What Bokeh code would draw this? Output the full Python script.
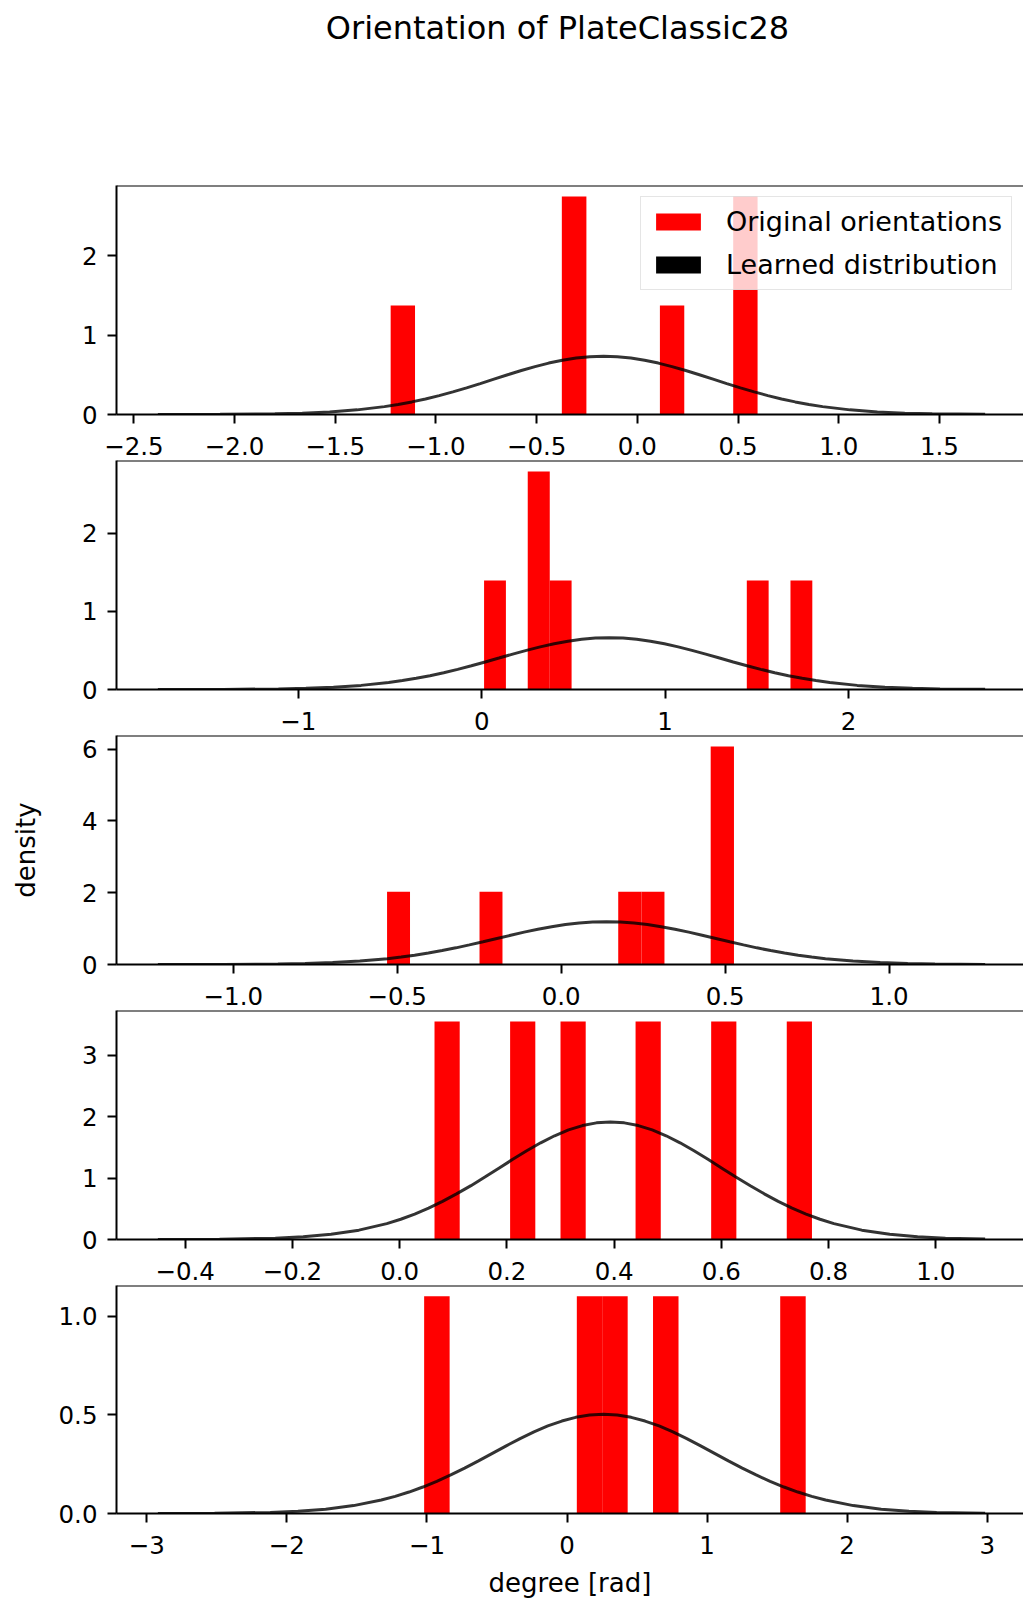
from bokeh.plotting import figure
from bokeh.models import Range1d, FixedTicker, Span, Legend, LegendItem, Label
from bokeh.layouts import column
from bokeh.embed import file_html
from bokeh.resources import INLINE

TITLE = "Orientation of PlateClassic28"
X_LABEL = "degree [rad]"
Y_LABEL = "density"
LEGEND_LABELS = ["Original orientations", "Learned distribution"]

# ---------------- panel 1 ----------------
p1_left = [-1.225, -0.375, 0.112, 0.476]
p1_right = [-1.104, -0.253, 0.233, 0.597]
p1_density = [1.372, 2.744, 1.372, 2.744]
p1_curve_x = [-2.381, -2.072, -1.800, -1.664, -1.528, -1.392,
              -1.256, -1.188, -1.120, -1.052, -0.984, -0.916, -0.848, -0.780,
              -0.712, -0.644, -0.576, -0.508, -0.440, -0.372, -0.304, -0.236,
              -0.168,
              -0.100, -0.032, 0.036, 0.104, 0.172, 0.240, 0.308, 0.376,
              0.444, 0.512, 0.580, 0.648, 0.716, 0.784, 0.852, 0.920,
              1.056, 1.192, 1.328, 1.464, 1.727]
p1_curve_y = [0.0002, 0.0016, 0.0081, 0.0167, 0.0322, 0.0583,
              0.0992, 0.1264, 0.1585, 0.1957, 0.2380, 0.2848, 0.3356, 0.3893,
              0.4446, 0.4999, 0.5533, 0.6029, 0.6469, 0.6832, 0.7104, 0.7273,
              0.7330,
              0.7273, 0.7104, 0.6832, 0.6469, 0.6029, 0.5533, 0.4999, 0.4446,
              0.3893, 0.3356, 0.2848, 0.2380, 0.1957, 0.1585, 0.1264, 0.0992,
              0.0583, 0.0322, 0.0167, 0.0081, 0.0017]
p1_xticks = [-2.5, -2.0, -1.5, -1.0, -0.5, 0.0, 0.5, 1.0, 1.5]
p1_xtick_labels = ["−2.5", "−2.0", "−1.5", "−1.0", "−0.5", "0.0", "0.5", "1.0", "1.5"]
p1_yticks = [0, 1, 2]
p1_ytick_labels = ["0", "1", "2"]

# ---------------- panel 2 ----------------
p2_left = [0.013, 0.251, 0.371, 1.445, 1.683]
p2_right = [0.132, 0.371, 0.490, 1.564, 1.802]
p2_density = [1.397, 2.794, 1.397, 1.397, 1.397]
p2_curve_x = [-1.765, -1.409, -1.108, -0.958, -0.808, -0.657,
              -0.507, -0.432, -0.357, -0.282, -0.207, -0.131, -0.056, 0.019,
              0.094, 0.169, 0.244, 0.319, 0.395, 0.470, 0.545, 0.620,
              0.695,
              0.770, 0.845, 0.920, 0.996, 1.071, 1.146, 1.221, 1.296,
              1.371, 1.446, 1.521, 1.597, 1.672, 1.747, 1.822, 1.897,
              2.047, 2.198, 2.348, 2.498, 2.744]
p2_curve_y = [0.0002, 0.0015, 0.0074, 0.0151, 0.0292, 0.0528,
              0.0899, 0.1145, 0.1436, 0.1773, 0.2156, 0.2580, 0.3040, 0.3527,
              0.4027, 0.4528, 0.5012, 0.5462, 0.5860, 0.6189, 0.6436, 0.6588,
              0.6640,
              0.6588, 0.6436, 0.6189, 0.5860, 0.5462, 0.5012, 0.4528, 0.4027,
              0.3527, 0.3040, 0.2580, 0.2156, 0.1773, 0.1436, 0.1145, 0.0899,
              0.0528, 0.0292, 0.0151, 0.0074, 0.0020]
p2_xticks = [-1, 0, 1, 2]
p2_xtick_labels = ["−1", "0", "1", "2"]
p2_yticks = [0, 1, 2]
p2_ytick_labels = ["0", "1", "2"]

# ---------------- panel 3 ----------------
p3_left = [-0.531, -0.249, 0.174, 0.245, 0.456]
p3_right = [-0.461, -0.179, 0.245, 0.315, 0.527]
p3_density = [2.026, 2.026, 2.026, 2.026, 6.079]
p3_curve_x = [-1.230, -1.031, -0.864, -0.781, -0.697, -0.614,
              -0.530, -0.488, -0.447, -0.405, -0.363, -0.321, -0.280, -0.238,
              -0.196, -0.154, -0.113, -0.071, -0.029, 0.013, 0.055, 0.096,
              0.138,
              0.180, 0.222, 0.263, 0.305, 0.347, 0.389, 0.430, 0.472,
              0.514, 0.556, 0.597, 0.639, 0.681, 0.723, 0.764, 0.806,
              0.890, 0.973, 1.057, 1.140, 1.293]
p3_curve_y = [0.0003, 0.0026, 0.0133, 0.0272, 0.0525, 0.0951,
              0.1617, 0.2060, 0.2584, 0.3191, 0.3880, 0.4643, 0.5471, 0.6347,
              0.7248, 0.8149, 0.9020, 0.9830, 1.0546, 1.1139, 1.1582, 1.1857,
              1.1950,
              1.1857, 1.1582, 1.1139, 1.0546, 0.9830, 0.9020, 0.8149, 0.7248,
              0.6347, 0.5471, 0.4643, 0.3880, 0.3191, 0.2584, 0.2060, 0.1617,
              0.0951, 0.0525, 0.0272, 0.0133, 0.0030]
p3_xticks = [-1.0, -0.5, 0.0, 0.5, 1.0]
p3_xtick_labels = ["−1.0", "−0.5", "0.0", "0.5", "1.0"]
p3_yticks = [0, 2, 4, 6]
p3_ytick_labels = ["0", "2", "4", "6"]

# ---------------- panel 4 ----------------
p4_left = [0.065, 0.206, 0.300, 0.440, 0.581, 0.722]
p4_right = [0.112, 0.253, 0.347, 0.487, 0.628, 0.769]
p4_density = [3.551, 3.551, 3.551, 3.551, 3.551, 3.551]
p4_curve_x = [-0.451, -0.336, -0.232, -0.180, -0.128, -0.076,
              -0.024, 0.002, 0.028, 0.054, 0.080, 0.106, 0.133, 0.159,
              0.185, 0.211, 0.237, 0.263, 0.289, 0.315, 0.341, 0.367,
              0.393,
              0.419, 0.445, 0.471, 0.497, 0.523, 0.549, 0.575, 0.601,
              0.627, 0.654, 0.680, 0.706, 0.732, 0.758, 0.784, 0.810,
              0.862, 0.914, 0.966, 1.018, 1.092]
p4_curve_y = [0.0005, 0.0042, 0.0213, 0.0436, 0.0841, 0.1523,
              0.2590, 0.3300, 0.4139, 0.5111, 0.6214, 0.7437, 0.8763, 1.0165,
              1.1609, 1.3052, 1.4448, 1.5744, 1.6891, 1.7840, 1.8551, 1.8991,
              1.9140,
              1.8991, 1.8551, 1.7840, 1.6891, 1.5744, 1.4448, 1.3052, 1.1609,
              1.0165, 0.8763, 0.7437, 0.6214, 0.5111, 0.4139, 0.3300, 0.2590,
              0.1523, 0.0841, 0.0436, 0.0213, 0.0069]
p4_xticks = [-0.4, -0.2, 0.0, 0.2, 0.4, 0.6, 0.8, 1.0]
p4_xtick_labels = ["−0.4", "−0.2", "0.0", "0.2", "0.4", "0.6", "0.8", "1.0"]
p4_yticks = [0, 1, 2, 3]
p4_ytick_labels = ["0", "1", "2", "3"]

# ---------------- panel 5 ----------------
p5_left = [-1.020, 0.070, 0.251, 0.614, 1.522]
p5_right = [-0.838, 0.251, 0.433, 0.796, 1.704]
p5_density = [1.101, 1.101, 1.101, 1.101, 1.101]
p5_curve_x = [-2.921, -2.516, -2.119, -1.921, -1.723, -1.524,
              -1.326, -1.227, -1.128, -1.029, -0.930, -0.830, -0.731, -0.632,
              -0.533, -0.434, -0.335, -0.236, -0.137, -0.037, 0.062, 0.161,
              0.260,
              0.359, 0.458, 0.557, 0.657, 0.756, 0.855, 0.954, 1.053,
              1.152, 1.251, 1.350, 1.450, 1.549, 1.648, 1.747, 1.846,
              2.044, 2.243, 2.441, 2.639, 2.985]
p5_curve_y = [0.0002, 0.0011, 0.0056, 0.0115, 0.0221, 0.0400,
              0.0681, 0.0867, 0.1088, 0.1343, 0.1633, 0.1954, 0.2303, 0.2671,
              0.3051, 0.3430, 0.3797, 0.4138, 0.4439, 0.4688, 0.4875, 0.4991,
              0.5030,
              0.4991, 0.4875, 0.4688, 0.4439, 0.4138, 0.3797, 0.3430, 0.3051,
              0.2671, 0.2303, 0.1954, 0.1633, 0.1343, 0.1088, 0.0867, 0.0681,
              0.0400, 0.0221, 0.0115, 0.0056, 0.0014]
p5_xticks = [-3, -2, -1, 0, 1, 2, 3]
p5_xtick_labels = ["−3", "−2", "−1", "0", "1", "2", "3"]
p5_yticks = [0.0, 0.5, 1.0]
p5_ytick_labels = ["0.0", "0.5", "1.0"]

# ---------------- styling / layout ----------------
FONT = "DejaVu Sans"
BAR_COLOR = "#ff0000"
FIG_W = 1023
BORDER_LEFT = 116
PAD = 0.05               # matplotlib-like 5% margins
VISIBLE = 907.0 / 910.0  # right edge of the axes is cropped by the page
TICK_FONT = "24.5px"
LABEL_FONT = "26px"
LEGEND_FONT = "27px"


def make_panel(height, border_bottom, left, right, dens, cx, cy,
               xticks, xlabels, yticks, ylabels):
    span = cx[-1] - cx[0]
    lo = cx[0] - PAD * span
    hi = cx[-1] + PAD * span
    vis_hi = lo + (hi - lo) * VISIBLE
    top = 1.05 * max(dens)
    p = figure(width=FIG_W, height=height, x_range=Range1d(lo, vis_hi),
               y_range=Range1d(0, top), toolbar_location=None, output_backend="svg",
               min_border_left=BORDER_LEFT, min_border_right=0, min_border_top=0,
               min_border_bottom=border_bottom)
    p.outline_line_color = None
    p.xgrid.visible = False
    p.ygrid.visible = False
    p.background_fill_color = "white"
    p.border_fill_color = "white"

    bars = p.quad(left=left, right=right, bottom=0, top=dens,
                  fill_color=BAR_COLOR, line_color=None)
    p.line(cx, cy, line_color="black", line_alpha=0.8, line_width=3)

    p.add_layout(Span(location=top, dimension="width", line_color="black", line_width=2))

    for ax, ticks, labels in ((p.xaxis[0], xticks, xlabels), (p.yaxis[0], yticks, ylabels)):
        ax.ticker = FixedTicker(ticks=ticks)
        ax.major_label_overrides = {t: s for t, s in zip(ticks, labels)}
        ax.axis_line_color = "black"
        ax.axis_line_width = 2
        ax.major_tick_line_color = "black"
        ax.major_tick_line_width = 2
        ax.major_tick_out = 9
        ax.major_tick_in = 0
        ax.minor_tick_out = 0
        ax.minor_tick_in = 0
        ax.major_label_text_font = FONT
        ax.major_label_text_font_size = TICK_FONT
        ax.major_label_text_color = "black"
        ax.axis_label_text_font = FONT
        ax.axis_label_text_font_size = LABEL_FONT
        ax.axis_label_text_font_style = "normal"
        ax.axis_label_text_color = "black"
    p.xaxis.major_label_standoff = 13
    p.yaxis.major_label_standoff = 10
    return p, bars


# title area (its frame is aligned with the panels' frames by the column)
title_fig = figure(width=FIG_W, height=185, x_range=Range1d(0, 1), y_range=Range1d(0, 1),
                   toolbar_location=None, output_backend="svg",
                   x_axis_location=None, y_axis_location=None, min_border=0,
                   min_border_left=BORDER_LEFT)
title_fig.outline_line_color = None
title_fig.xgrid.visible = False
title_fig.ygrid.visible = False
title_fig.add_layout(Label(x=441, y=157.5, x_units="screen", y_units="screen", text=TITLE,
                           text_align="center", text_baseline="middle",
                           text_font=FONT, text_font_size="32px", text_color="black"))

p1, bars1 = make_panel(275, 46, p1_left, p1_right, p1_density, p1_curve_x, p1_curve_y,
                       p1_xticks, p1_xtick_labels, p1_yticks, p1_ytick_labels)
p2, _ = make_panel(275, 46, p2_left, p2_right, p2_density, p2_curve_x, p2_curve_y,
                   p2_xticks, p2_xtick_labels, p2_yticks, p2_ytick_labels)
p3, _ = make_panel(275, 46, p3_left, p3_right, p3_density, p3_curve_x, p3_curve_y,
                   p3_xticks, p3_xtick_labels, p3_yticks, p3_ytick_labels)
p4, _ = make_panel(275, 46, p4_left, p4_right, p4_density, p4_curve_x, p4_curve_y,
                   p4_xticks, p4_xtick_labels, p4_yticks, p4_ytick_labels)
p5, _ = make_panel(315, 84, p5_left, p5_right, p5_density, p5_curve_x, p5_curve_y,
                   p5_xticks, p5_xtick_labels, p5_yticks, p5_ytick_labels)

p3.yaxis.axis_label = Y_LABEL
p3.yaxis.axis_label_standoff = 38
p5.xaxis.axis_label = X_LABEL
p5.xaxis.axis_label_standoff = 11

# legend: both entries shown as filled patches (zero-size stand-in for the black one)
dummy = p1.quad(left=[0], right=[0], top=[0], bottom=[0], fill_color="black", line_color=None)
legend = Legend(items=[LegendItem(label=LEGEND_LABELS[0], renderers=[bars1]),
                       LegendItem(label=LEGEND_LABELS[1], renderers=[dummy])],
                location="top_right", margin=11, padding=9, spacing=12,
                glyph_width=56, glyph_height=21, label_height=21, label_standoff=20,
                label_text_font=FONT, label_text_font_size=LEGEND_FONT,
                label_text_color="black",
                border_line_color="#cccccc", border_line_width=1.5,
                background_fill_color="white", background_fill_alpha=0.8)
p1.add_layout(legend)

layout = column(title_fig, p1, p2, p3, p4, p5, spacing=0)

with open("out.html", "w") as f:
    f.write(file_html(layout, INLINE))
